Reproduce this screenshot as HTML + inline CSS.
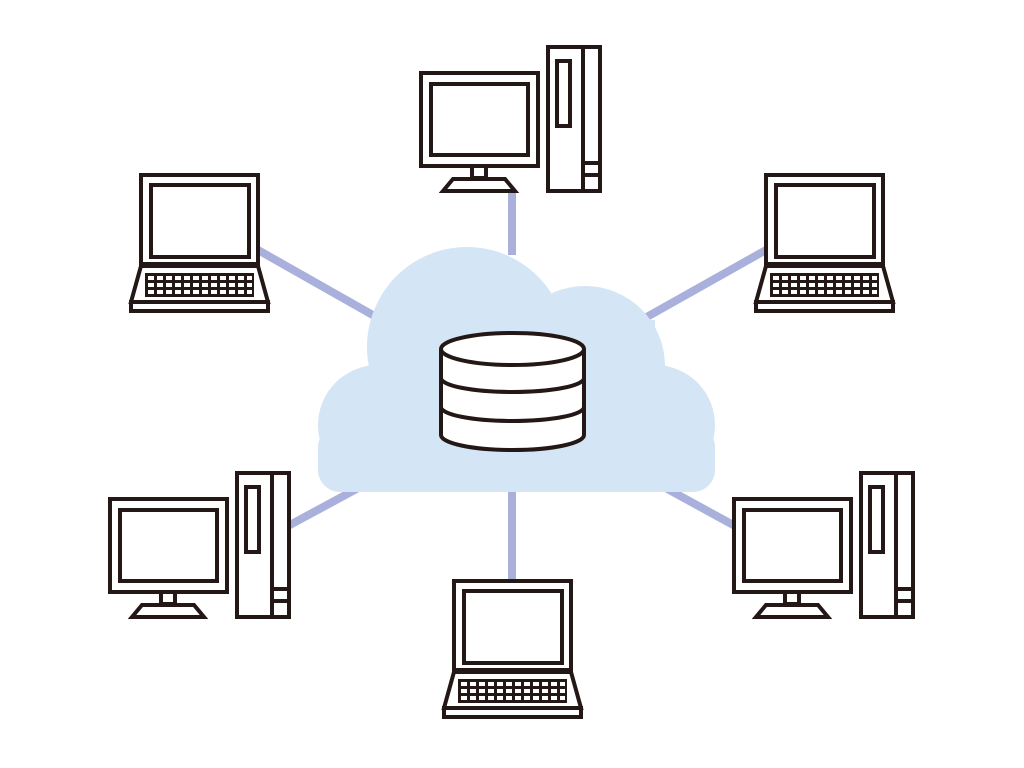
<!DOCTYPE html>
<html><head><meta charset="utf-8"><style>html,body{margin:0;padding:0;background:#fff}svg{display:block}</style></head>
<body>
<svg width="1024" height="768" viewBox="0 0 1024 768" xmlns="http://www.w3.org/2000/svg">
<defs>
<g id="desk" fill="#fff" stroke="#231815" stroke-width="4">
  <rect x="2" y="28" width="117" height="93"/>
  <rect x="12" y="39" width="97" height="71"/>
  <rect x="53" y="121" width="14" height="12"/>
  <path d="M34 134 H86 L96 146 H24 Z" stroke-linejoin="miter"/>
  <rect x="129" y="2" width="52" height="144"/>
  <line x1="164" y1="2" x2="164" y2="146"/>
  <rect x="138" y="16" width="13" height="65"/>
  <line x1="164" y1="118" x2="181" y2="118"/>
  <line x1="164" y1="130" x2="181" y2="130"/>
</g>
<g id="lap" fill="#fff" stroke="#231815" stroke-width="4">
  <rect x="2" y="2" width="117" height="89"/>
  <rect x="12" y="12" width="98" height="72"/>
  <path d="M2 93 H119 L129 129 H-8 Z"/>
  <rect x="-8" y="129" width="137" height="9"/>
  <g stroke="none" fill="#231815">
    <rect x="6" y="100" width="109" height="24"/>
  </g>
  <g stroke="none" fill="#fff">
    <g id="krow">
      <rect x="9" y="103" width="6" height="4"/><rect x="18" y="103" width="6" height="4"/><rect x="27" y="103" width="6" height="4"/><rect x="36" y="103" width="6" height="4"/><rect x="45" y="103" width="6" height="4"/><rect x="54" y="103" width="6" height="4"/><rect x="63" y="103" width="6" height="4"/><rect x="72" y="103" width="6" height="4"/><rect x="81" y="103" width="6" height="4"/><rect x="90" y="103" width="6" height="4"/><rect x="99" y="103" width="6" height="4"/><rect x="108" y="103" width="5" height="4"/>
    </g>
    <use href="#krow" y="7"/>
    <use href="#krow" y="14"/>
  </g>
</g>
</defs>
<g stroke="#a9b0dc" stroke-width="8">
  <line x1="512" y1="190" x2="512" y2="255"/>
  <line x1="258" y1="250" x2="378" y2="318"/>
  <line x1="766" y1="250" x2="645" y2="318"/>
  <line x1="288" y1="526" x2="362" y2="486"/>
  <line x1="735" y1="526" x2="662" y2="486"/>
  <line x1="512" y1="488" x2="512" y2="580"/>
</g>
<g fill="#d4e5f5">
  <circle cx="467" cy="347" r="100"/>
  <circle cx="585" cy="366" r="80"/>
  <circle cx="378" cy="425" r="60"/>
  <circle cx="655" cy="425" r="60"/>
  <rect x="378" y="320" width="277" height="172"/>
  <rect x="318" y="425" width="397" height="67" rx="22"/>
</g>
<g fill="#fff" stroke="#231815" stroke-width="4">
  <path d="M441 349 V435 A71.5 15 0 0 0 584 435 V349"/>
  <ellipse cx="512.5" cy="349" rx="71.5" ry="16"/>
  <path d="M441 378 A71.5 14 0 0 0 584 378" fill="none"/>
  <path d="M441 407 A71.5 14 0 0 0 584 407" fill="none"/>
</g>
<use href="#desk" x="419" y="45"/>
<use href="#desk" x="108" y="471"/>
<use href="#desk" x="732" y="471"/>
<use href="#lap" x="139" y="173"/>
<use href="#lap" x="764" y="173"/>
<use href="#lap" x="452" y="579"/>
</svg>
</body></html>
